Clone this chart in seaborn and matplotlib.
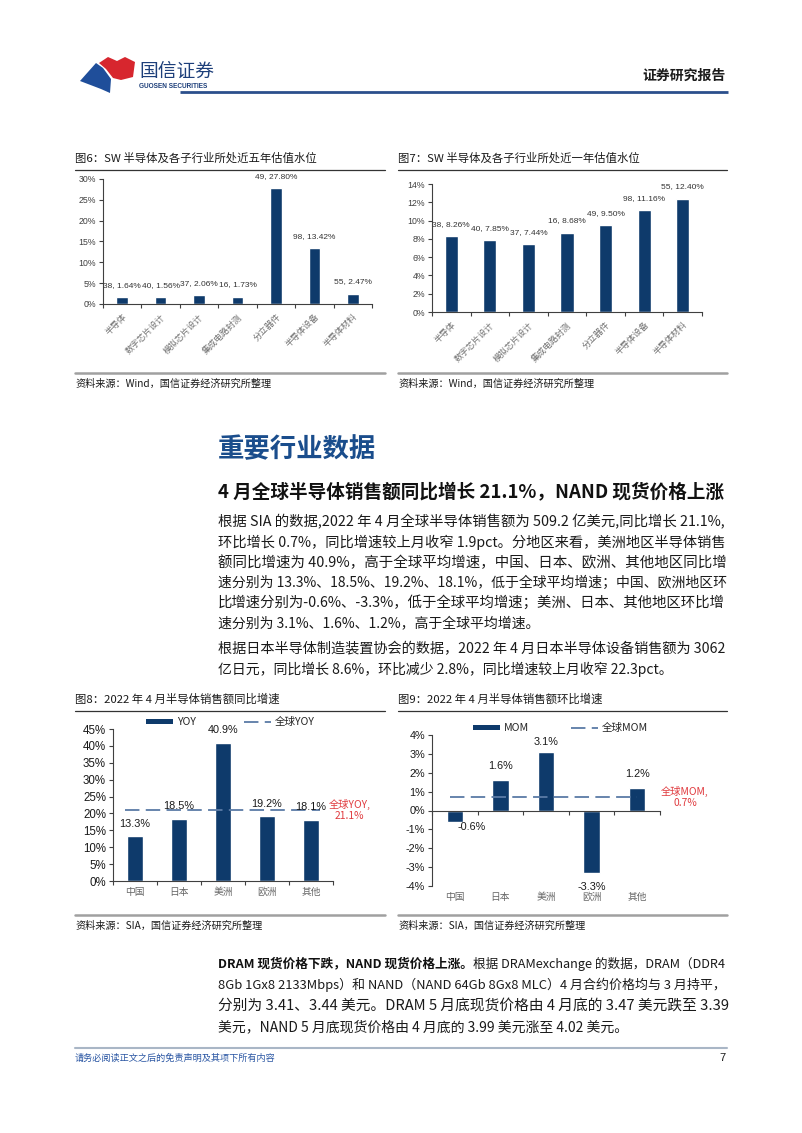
import numpy as np
import pandas as pd
import matplotlib
matplotlib.use('Agg')
import matplotlib.pyplot as plt
import seaborn as sns
from matplotlib.patches import Polygon, Patch
from matplotlib.lines import Line2D
import matplotlib.transforms as mtransforms
from matplotlib.ticker import FuncFormatter, MultipleLocator, FixedLocator

# ---------------- data ----------------
val_cats = ['半导体', '数字芯片设计', '模拟芯片设计', '集成电路封测', '分立器件', '半导体设备', '半导体材料']
pe_values = [38, 40, 37, 16, 49, 98, 55]
pct_5y = [1.64, 1.56, 2.06, 1.73, 27.80, 13.42, 2.47]
pct_1y = [8.26, 7.85, 7.44, 8.68, 9.50, 11.16, 12.40]

regions = ['中国', '日本', '美洲', '欧洲', '其他']
yoy = [13.3, 18.5, 40.9, 19.2, 18.1]
yoy_global = 21.1
mom = [-0.6, 1.6, 3.1, -3.3, 1.2]
mom_global = 0.7

title6 = '图6：SW 半导体及各子行业所处近五年估值水位'
title7 = '图7：SW 半导体及各子行业所处近一年估值水位'
title8 = '图8：2022 年 4 月半导体销售额同比增速'
title9 = '图9：2022 年 4 月半导体销售额环比增速'
src_wind = '资料来源：Wind，国信证券经济研究所整理'
src_sia = '资料来源：SIA，国信证券经济研究所整理'

para1 = ['根据 SIA 的数据,2022 年 4 月全球半导体销售额为 509.2 亿美元,同比增长 21.1%,',
         '环比增长 0.7%，同比增速较上月收窄 1.9pct。分地区来看，美洲地区半导体销售',
         '额同比增速为 40.9%，高于全球平均增速，中国、日本、欧洲、其他地区同比增',
         '速分别为 13.3%、18.5%、19.2%、18.1%，低于全球平均增速；中国、欧洲地区环',
         '比增速分别为-0.6%、-3.3%，低于全球平均增速；美洲、日本、其他地区环比增',
         '速分别为 3.1%、1.6%、1.2%，高于全球平均增速。']
para2 = ['根据日本半导体制造装置协会的数据，2022 年 4 月日本半导体设备销售额为 3062',
         '亿日元，同比增长 8.6%，环比减少 2.8%，同比增速较上月收窄 22.3pct。']
para3_bold = 'DRAM 现货价格下跌，NAND 现货价格上涨。'
para3 = ['根据 DRAMexchange 的数据，DRAM（DDR4',
         '8Gb 1Gx8 2133Mbps）和 NAND（NAND 64Gb 8Gx8 MLC）4 月合约价格均与 3 月持平，',
         '分别为 3.41、3.44 美元。DRAM 5 月底现货价格由 4 月底的 3.47 美元跌至 3.39',
         '美元，NAND 5 月底现货价格由 4 月底的 3.99 美元涨至 4.02 美元。']

# ---------------- style ----------------
sns.set_theme(style='white')
plt.rcParams['font.family'] = ['Noto Sans CJK SC', 'DejaVu Sans']
plt.rcParams['axes.unicode_minus'] = False

NAVY = '#0E3A6B'
DASH = '#5B7BA6'
RED = '#E03A3E'
LAT = ['Liberation Sans', 'Noto Sans CJK SC']
AXC = '#404040'

W, H = 802, 1133
fig = plt.figure(figsize=(W / 100, H / 100), dpi=100)
fig.patch.set_facecolor('white')


def box(x0, y0, x1, y1):
    return [x0 / W, 1 - y1 / H, (x1 - x0) / W, (y1 - y0) / H]


page = fig.add_axes([0, 0, 1, 1])
page.set_xlim(0, W)
page.set_ylim(H, 0)
page.axis('off')

# ---------------- header ----------------
page.add_patch(Polygon([(99, 63), (108, 57), (117, 61), (125, 57), (135, 62), (133, 77),
                        (121, 80), (113, 78), (106, 69)], closed=True, color='#D7262E', lw=0))
page.add_patch(Polygon([(80, 81), (96, 63), (103, 68), (111, 79), (110, 93), (101, 89)],
                       closed=True, color='#1F4E9A', lw=0))
page.text(139, 71, '国信证券', fontsize=13.5, color='#1D3F7A', va='center', ha='left', fontweight='medium')
page.text(139, 87, 'GUOSEN SECURITIES', fontsize=4.7, color='#1D3F7A', va='center', ha='left',
          fontweight='bold', family=LAT)
page.text(726, 76, '证券研究报告', fontsize=10, color='#1a1a1a', va='center', ha='right', fontweight='bold')
page.plot([180, 728], [92, 92], color='#2B4F8C', lw=2.0, solid_capstyle='butt')


# ---------------- chart frames ----------------
def frame(x0, x1, ytitle, title, ybottom, src):
    page.text(x0, ytitle, title, fontsize=8.2, color='#1a1a1a', va='center', ha='left')
    page.plot([x0, x1], [ytitle + 12, ytitle + 12], color='#333333', lw=0.9)
    page.plot([x0, x1], [ybottom, ybottom], color='#A0A0A0', lw=1.8)
    page.text(x0, ybottom + 11, src, fontsize=7.3, color='#1a1a1a', va='center', ha='left')


frame(75, 385, 158, title6, 373, src_wind)
frame(398, 727, 158, title7, 373, src_wind)
frame(75, 385, 699, title8, 915, src_sia)
frame(398, 727, 699, title9, 915, src_sia)


def style_axes(ax):
    for s in ['top', 'right']:
        ax.spines[s].set_visible(False)
    for s in ['left', 'bottom']:
        ax.spines[s].set_color(AXC)
        ax.spines[s].set_linewidth(0.8)
    ax.set_facecolor('none')
    ax.set_xlabel('')
    ax.set_ylabel('')
    ax.grid(False)


# ---------------- valuation charts ----------------
def valuation_chart(rect, vals, ymax, ystep, width):
    ax = fig.add_axes(box(*rect))
    df = pd.DataFrame({'cat': val_cats, 'v': vals})
    sns.barplot(data=df, x='cat', y='v', color=NAVY, saturation=1, width=width, ax=ax)
    style_axes(ax)
    n = len(vals)
    ax.set_xlim(-0.5, n - 0.5)
    ax.set_ylim(0, ymax)
    ax.yaxis.set_major_locator(MultipleLocator(ystep))
    ax.yaxis.set_major_formatter(FuncFormatter(lambda v, _: f'{v:.0f}%'))
    ax.tick_params(axis='y', which='major', direction='out', length=3, width=0.8, color=AXC,
                   labelsize=6.3, labelcolor='#404040', pad=2, left=True)
    for t in ax.get_yticklabels():
        t.set_family(LAT)
    ax.set_xticks(range(n))
    ax.set_xticklabels(val_cats, rotation=45, ha='right', va='top', rotation_mode='anchor',
                       fontsize=6.2, color='#707070')
    ax.tick_params(axis='x', which='major', length=0, pad=6)
    ax.xaxis.set_minor_locator(FixedLocator(np.arange(-0.5, n, 1.0)))
    ax.tick_params(axis='x', which='minor', direction='out', length=3, width=0.8, color=AXC, bottom=True)
    for i, (pe, v) in enumerate(zip(pe_values, vals)):
        ax.annotate(f'{pe}, {v:.2f}%', xy=(i, v), xytext=(0, 8.5), textcoords='offset points',
                    ha='center', va='center', fontsize=6.0, color='#333333', family=LAT)
    return ax


valuation_chart((103, 179, 372, 304), pct_5y, 30, 5, 0.30)
valuation_chart((432, 184, 702, 312), pct_1y, 14, 2, 0.34)


# ---------------- regional charts ----------------
def region_chart(rect, vals, gval, ymin, ymax, ystep, lab, glab, leg_x, colspace, line_span,
                 gtext_x, label_offsets, ytick_size):
    ax = fig.add_axes(box(*rect))
    df = pd.DataFrame({'region': regions, 'v': vals})
    sns.barplot(data=df, x='region', y='v', color=NAVY, saturation=1, width=0.36, ax=ax)
    style_axes(ax)
    n = len(vals)
    ax.set_xlim(-0.5, n - 0.5)
    ax.set_ylim(ymin, ymax)
    ax.axhline(gval, xmin=line_span[0], xmax=line_span[1], color=DASH, lw=1.3, ls=(0, (8, 3.5)))
    ax.yaxis.set_major_locator(MultipleLocator(ystep))
    ax.yaxis.set_major_formatter(FuncFormatter(lambda v, _: f'{v:.0f}%'))
    ax.tick_params(axis='y', which='major', direction='out', length=3, width=0.8, color=AXC,
                   labelsize=ytick_size, labelcolor='#1a1a1a', pad=2, left=True)
    for t in ax.get_yticklabels():
        t.set_family(LAT)
    if ymin < 0:
        ax.spines['bottom'].set_position(('data', 0))
    ax.set_xticks(range(n))
    ax.set_xticklabels([])
    ax.tick_params(axis='x', which='major', length=0)
    ax.xaxis.set_minor_locator(FixedLocator(np.arange(-0.5, n, 1.0)))
    ax.tick_params(axis='x', which='minor', direction='out', length=3, width=0.8, color=AXC, bottom=True)
    tr = mtransforms.blended_transform_factory(ax.transData, ax.transAxes)
    for i, r in enumerate(regions):
        ax.annotate(r, xy=(i, 0), xycoords=tr, xytext=(0, -8), textcoords='offset points',
                    ha='center', va='center', fontsize=7, color='#666666')
    for i, v in enumerate(vals):
        dx, dy = label_offsets[i]
        ax.annotate(f'{v:.1f}%', xy=(i, v), xytext=(dx, dy), textcoords='offset points',
                    ha='center', va='center', fontsize=7.8, color='#1a1a1a', family=LAT)
    trg = mtransforms.blended_transform_factory(ax.transAxes, ax.transData)
    ax.text(gtext_x, gval, f'{glab},\n{gval:.1f}%', transform=trg, ha='center', va='center',
            fontsize=7.4, color=RED, linespacing=1.1)
    handles = [Patch(facecolor=NAVY, edgecolor='none'),
               Line2D([], [], color=DASH, lw=1.3, ls=(0, (8, 3.5)))]
    ax.legend(handles, [lab, glab], loc='center left', bbox_to_anchor=(leg_x, 1.045), ncol=2,
              frameon=False, fontsize=7.6, handlelength=2.6, handleheight=0.45,
              columnspacing=colspace, handletextpad=0.3, borderaxespad=0, borderpad=0)
    return ax


region_chart((113, 729, 333, 881), yoy, yoy_global, 0, 45, 5, 'YOY', '全球YOY', 0.15, 4.6,
             (0.055, 0.94), 1.075, [(0, 9)] * 5, 8.3)
region_chart((432, 735, 660, 886), mom, mom_global, -4, 4, 1, 'MOM', '全球MOM', 0.18, 4.0,
             (0.08, 0.90), 1.11, [(12, -4), (0, 10), (0, 7), (0, -10), (0, 10)], 7.8)

# ---------------- body text ----------------
TX = 218
RIGHT = 726
page.text(TX, 450, '重要行业数据', fontsize=19, fontweight='bold', color='#1A4D8C', va='center', ha='left')
sub = page.text(TX, 493, '4 月全球半导体销售额同比增长 21.1%，NAND 现货价格上涨', fontsize=12.2,
                fontweight='bold', color='#111111', va='center', ha='left')

BODY = 10.0
full_lines = []   # (list of text artists) to be justified to full width
y = 522
for k, line in enumerate(para1):
    t = page.text(TX, y, line, fontsize=BODY, color='#1a1a1a', va='center', ha='left')
    if k < len(para1) - 1:
        full_lines.append([t])
    y += 20.2
y = 649
for k, line in enumerate(para2):
    t = page.text(TX, y, line, fontsize=BODY, color='#1a1a1a', va='center', ha='left')
    if k < len(para2) - 1:
        full_lines.append([t])
    y += 20.5

bt = page.text(TX, 964, para3_bold, fontsize=BODY, fontweight='bold', color='#111111', va='center', ha='left')
rt = page.annotate(para3[0], xy=(1, 0.5), xycoords=bt, ha='left', va='center', fontsize=BODY, color='#1a1a1a')
full_lines.append([bt, rt])
y = 985
for k, line in enumerate(para3[1:]):
    t = page.text(TX, y, line, fontsize=BODY, color='#1a1a1a', va='center', ha='left')
    if k < len(para3) - 2:
        full_lines.append([t])
    y += 21

# justify full lines by fitting their font size to the text block width
renderer = fig.canvas.get_renderer()
target = RIGHT - TX
for arts in full_lines:
    w = sum(a.get_window_extent(renderer).width for a in arts)
    fs = float(np.clip(BODY * target / w, 8.6, 11.0))
    for a in arts:
        a.set_fontsize(fs)
w = sub.get_window_extent(renderer).width
sub.set_fontsize(float(np.clip(12.2 * (722 - TX) / w, 11, 14)))

# ---------------- footer ----------------
page.plot([75, 727], [1048, 1048], color='#A9B6C6', lw=1.5)
page.text(75, 1058, '请务必阅读正文之后的免责声明及其项下所有内容', fontsize=6.6, color='#2A56A3',
          va='center', ha='left', style='italic')
page.text(726, 1058, '7', fontsize=8, color='#1a1a1a', va='center', ha='right', family=LAT)

fig.savefig('out.png', dpi=100, facecolor='white')
